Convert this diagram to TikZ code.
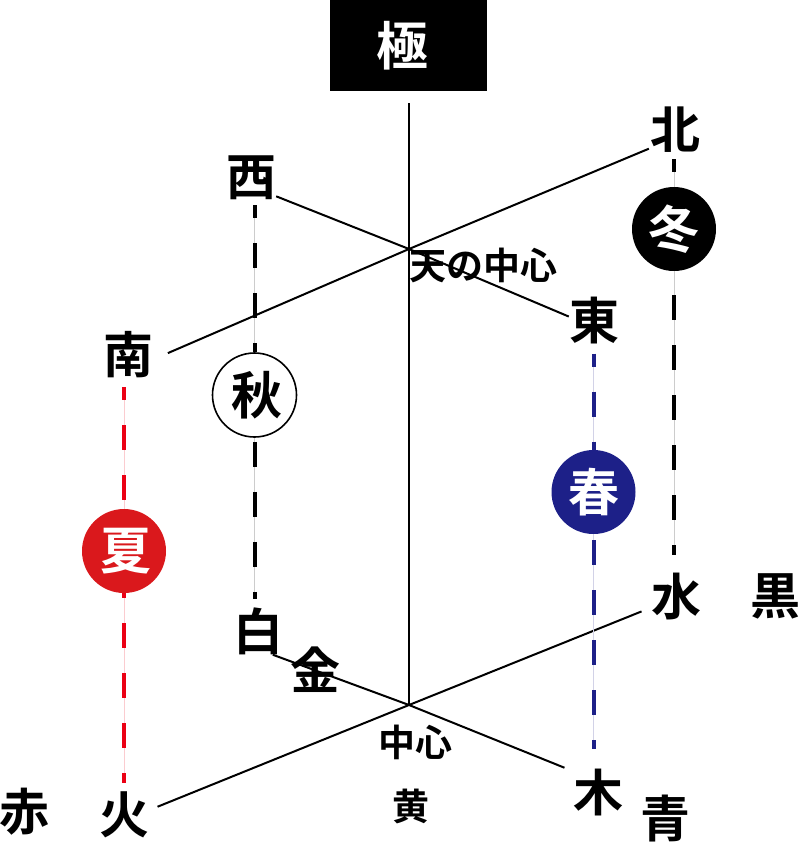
\documentclass[tikz,border=0pt]{standalone}
\usepackage{fontspec}
\setmainfont{Noto Sans CJK JP}[BoldFont={Noto Sans CJK JP Bold}]
\definecolor{natured}{RGB}{218, 24, 28}
\definecolor{natudash}{RGB}{235, 0, 20}
\definecolor{harublue}{RGB}{29, 32, 136}
\begin{document}
\begin{tikzpicture}[x=1pt, y=-1pt,
        kanji/.style={inner sep=0pt, minimum size=46pt, font=\fontsize{50}{50}\selectfont\bfseries},
        small/.style={inner sep=0pt, font=\fontsize{37}{37}\selectfont\bfseries},
        season/.style={circle, inner sep=0pt, minimum size=84pt, font=\fontsize{51}{51}\selectfont\bfseries},
        axis/.style={line width=2pt},
        seg/.style={preaction={draw=#1!20, line width=1pt, solid}, draw=#1, line width=4pt, dash pattern=on 25pt off 25pt}
      ]
        \useasboundingbox (0,0) rectangle (800,857);
        \node[fill=black, text=white, minimum width=157pt, minimum height=91pt, inner sep=0pt, font=\fontsize{52}{52}\selectfont\bfseries] (kyoku) at (408.5,45.5) {\hspace*{-13pt}極};
        % 天
        \node[kanji] (nishi) at (251,178) {西};
        \node[kanji] (higashi) at (594,321) {東};
        \node[kanji] (minami) at (128,355) {南};
        \node[kanji] (kita) at (675,130) {北};
        % 地
        \node[kanji, minimum height=42pt] (shiro) at (258,631) {白};
        \node[kanji] (kane) at (315,670) {金};
        \node[kanji] (ki) at (598,793) {木};
        \node[kanji] (hi) at (124,815) {火};
        \node[kanji] (mizu) at (676,597) {水};
        \node[kanji] (kuro) at (775,596) {黒};
        \node[kanji] (aka) at (24,812) {赤};
        \node[kanji] (ao) at (665,819) {青};
        \node[small] (tenchu) at (483,265) {天の中心};
        \node[small] (chushin) at (415,742) {中心};
        \node[small] (ki2) at (411,806) {黄};
        % 四季
        \node[season, fill=black, text=white] (fuyu) at (674,229) {冬};
        \node[season, draw=black, line width=1.6pt, fill=white] (aki) at (254.5,395) {\hspace*{4pt}秋};
        \node[season, fill=harublue, text=white] (haru) at (593.5,492) {春};
        \node[season, fill=natured, text=white] (natsu) at (124,551) {\hspace*{3pt}夏};
        \coordinate (top) at (409,103);
        \coordinate (tenc) at (409,249);
        \coordinate (chic) at (409,705);
        \draw[axis] (top) -- (chic);
        \draw[axis] (nishi.-36) -- (tenc) -- (higashi.170);
        \draw[axis, shorten <=16pt, shorten >=1pt] (minami.-10) -- (tenc) -- (kita.216);
        \draw[axis] (shiro.-58) -- (chic);
        \draw[axis, shorten >=9pt] (chic) -- (ki.139);
        \draw[axis, shorten <=9pt] (hi.11) -- (chic);
        \draw[axis, shorten >=10pt] (chic) -- (mizu.203);
        % 縦の破線
        \draw[seg=black, dash phase=12pt, shorten <=4pt] (nishi.south -| aki.north) -- (aki.north);
        \draw[seg=black, dash phase=46pt, shorten >=8pt] (aki.south) -- (shiro.north -| aki.south);
        \draw[seg=black, dash phase=12pt, shorten <=6pt] (kita.south -| fuyu.north) -- (fuyu.north);
        \draw[seg=black, dash phase=26pt, shorten >=18pt] (fuyu.south) -- (mizu.north -| fuyu.south);
        \draw[seg=harublue, dash phase=12pt, shorten <=9pt] (higashi.south -| haru.north) -- (haru.north);
        \draw[seg=harublue, dash phase=44pt, shorten >=20pt] (haru.south) -- (ki.north -| haru.south);
        \draw[seg=natudash, dash phase=12pt, shorten <=9pt] (minami.south -| natsu.north) -- (natsu.north);
        \draw[seg=natudash, dash phase=20pt, shorten >=9pt] (natsu.south) -- (hi.north -| natsu.south);
      \end{tikzpicture}
\end{document}
